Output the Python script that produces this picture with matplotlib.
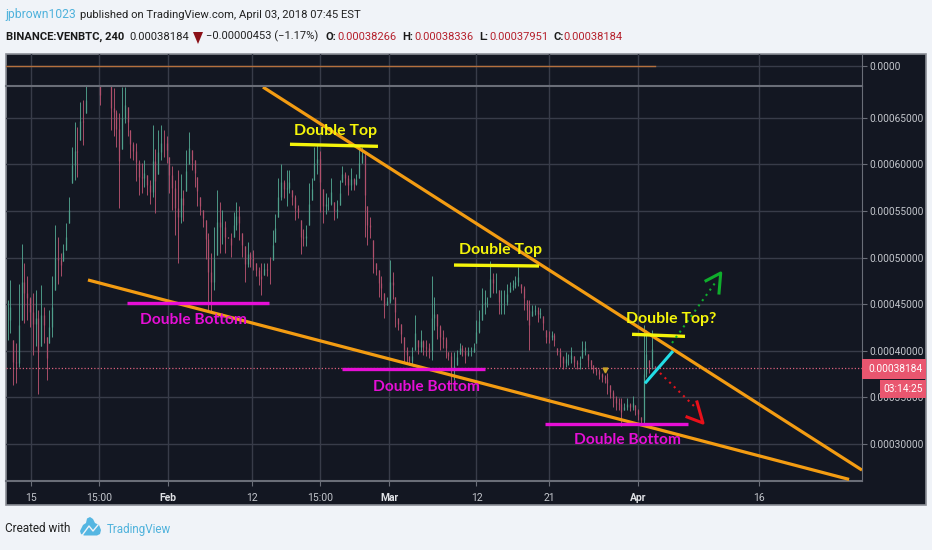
import numpy as np
import matplotlib
matplotlib.use("Agg")
import matplotlib.pyplot as plt
from matplotlib.patches import Rectangle, Polygon

# ---- data (prices in units of 1e-5 BTC, x in session days: 15 = "15" tick) ----
highs = [45.5,47.6,41.2,40.8,47.2,51.5,49.4,48.0,45.8,46.2,46.5,44.4,47.1,44.7,41.5,44.4,48.0,53.5,52.2,50.5,
 51.5,53.7,56.5,61.9,64.6,64.05,66.7,66.9,68.4,70,70,70,70,68.4,70,70,70,68.4,68.2,65.8,65.5,68.3,68.3,66.2,63.7,62.4,
 62.3,60.5,60.1,60.5,58.9,58.3,64.2,61.6,63.7,64.2,63.7,
 63.0,60.8,59.8,58.3,59.4,59.0,57.3,61.5,63.5,61.5,60.5,58.7,56.5,55.1,54.0,52.6,50.5,53.3,57.3,56.0,55.1,53.9,52.2,
 52.6,54.9,56.0,55.5,52.6,51.2,51.7,50.6,50.8,49.4,49.0,49.4,49.4,49.4,50.1,53.0,54.7,58.5,60.0,58.3,59.4,
 59.4,57.3,56.7,55.6,54.0,53.1,53.5,58.0,58.5,61.9,62.1,61.4,57.4,56.9,56.5,58.5,56.0,56.2,58.3,59.8,59.2,58.9,59.6,
 58.5,59.0,61.9,61.9,61.2,55.5,54.4,51.9,49.4,48.7,48.0,46.2,45.8,49.7,48.5,45.8,43.5,42.9,41.5,40.4,39.4,40.4,
 43.8,41.2,42.2,41.2,41.2,40.8,48.0,45.8,44.0,42.8,42.2,41.5,39.9,39.9,39.9,40.1,40.8,40.6,40.4,40.4,40.4,40.8,
 43.3,44.4,46.7,46.5,45.8,49.6,48.3,48.3,46.5,46.5,46.5,47.2,47.4,47.6,48.0,49.0,47.2,46.9,45.5,45.5,44.9,44.9,44.7,44.6,
 43.7,42.2,42.1,42.1,41.9,40.3,40.3,39.4,39.9,39.7,40.4,39.4,39.0,39.4,41.0,41.0,39.7,39.0,38.5,38.3,38.1,37.6,37.4,
 37.6,36.3,35.8,35.1,34.9,34.9,34.4,34.9,34.4,35.1,34.2,33.8,32.9,42.8,42.2,39.0,42.2,38.34]
lows = [41.2,41.9,36.3,36.5,38.3,43.3,43.0,43.3,42.6,39.6,40.5,35.4,40.5,40.8,36.9,40.8,41.5,46.5,47.2,48.0,
 49.6,50.8,53.7,58.0,58.3,58.7,62.6,62.1,65.5,69,69,69,69,66.4,69,69,69,63.7,63.0,61.9,55.3,61.6,64.4,63.0,60.7,60.5,
 58.2,56.7,56.9,57.6,56.7,55.8,56.5,54.8,59.0,60.5,60.8,
 60.1,56.9,55.1,52.4,49.4,53.7,53.9,57.1,60.0,59.4,57.6,55.5,54.6,53.3,49.9,44.4,44.2,46.5,50.3,50.5,51.5,50.5,52.1,
 50.1,52.2,53.0,51.9,50.1,47.4,49.0,49.0,48.7,48.0,47.1,46.0,48.1,48.0,47.2,49.7,51.7,54.4,56.2,56.4,55.5,
 56.9,55.6,54.0,54.2,50.4,51.2,51.2,53.5,56.2,58.3,59.0,54.9,53.7,54.7,55.1,55.6,54.0,54.2,55.6,58.1,57.8,56.7,57.3,
 57.3,57.8,58.5,60.1,52.2,51.4,52.1,48.3,48.1,45.8,45.4,43.5,44.9,45.1,45.6,42.6,42.2,40.8,38.7,38.7,38.5,38.5,
 40.1,39.7,39.9,39.6,39.4,39.2,39.0,42.2,41.3,40.1,40.3,39.2,39.0,35.8,36.9,38.5,39.7,39.4,38.7,39.4,39.4,39.9,
 40.8,41.9,43.3,44.0,44.7,45.8,46.2,46.2,44.0,44.0,44.0,44.9,46.3,46.5,46.7,46.9,46.2,44.4,43.3,40.1,43.7,43.8,43.1,43.5,
 42.2,40.8,40.8,41.2,40.5,39.5,38.3,38.0,38.3,38.5,38.7,38.3,38.1,38.0,39.2,39.5,38.3,38.0,37.6,37.4,37.0,36.7,36.5,
 35.4,34.9,34.0,33.6,33.6,31.9,33.6,33.6,33.5,33.6,33.1,32.6,32.2,32.2,37.2,37.6,38.1,37.95]
first_day, last_day = 12.1, 92.4
last_close = 38.184

price_ticks = [30, 35, 40, 45, 50, 55, 60, 65]
price_labels = ["0.00030000","0.00035000","0.00040000","0.00045000","0.00050000","0.00055000","0.00060000","0.00065000"]
day_ticks = [15, 23.44, 32, 42.42, 50.86, 59.42, 70.27, 79.27, 90.3, 105.3]
day_labels = ["15","15:00","Feb","12","15:00","Mar","12","21","Apr","16"]
bold_days = ["Feb","Mar","Apr"]

upper_trend = ([43.78,118.1],[68.3,27.2])
lower_trend = ([22.07,116.5],[47.6,26.2])
yellow_lines = [([47.13,58.05],[62.16,61.94]),([67.48,78.03],[49.2,49.1]),([89.57,96.14],[41.77,41.55])]
magenta_lines = [([26.91,44.53],[45.13,45.13]),([53.59,71.33],[38.08,38.08]),([78.77,96.51],[32.11,32.11])]
cyan_line = ([91.18,94.65],[36.51,39.97])
green_dots = ([94.53,99.87],[40.84,47.28])
green_head = ([98.75,100.57,100.36],[47.52,48.35,46.2])
red_dots = ([93.04,97.38],[37.62,33.97])
red_head = ([97.63,98.37,96.39],[34.51,32.25,32.9])
yellow_texts = [(52.72,63.59,"Double Top"),(73.31,50.82,"Double Top"),(94.4,43.41,"Double Top?")]
magenta_texts = [(35.16,43.3,"Double Bottom"),(64.07,36.12,"Double Bottom"),(89.0,30.43,"Double Bottom")]

# ---- colours ----
PAGE="#f0f3f8"; PANEL="#131722"; GRID="#383c49"; SEP="#6a6e78"; AXT="#c3c6cc"
UP="#4f9f8b"; DOWN="#b0506c"; ORANGE="#f39c12"; YEL="#f5f50a"; MAG="#e60fd6"
FONT="Roboto"
W,H=932,550
fig=plt.figure(figsize=(W/100,H/100),dpi=100,facecolor=PAGE)

def axpx(x0,y0,x1,y1,z):
    return fig.add_axes([x0/W,1-y1/H,(x1-x0)/W,(y1-y0)/H],zorder=z)

bg=axpx(0,0,W,H,0); bg.set_xlim(0,W); bg.set_ylim(H,0); bg.axis("off")
bg.add_patch(Rectangle((6,53.5),920,451.5,fc=PANEL,ec="#8b8e96",lw=1.2))

ax=axpx(6,86,862,481,2); ax.patch.set_alpha(0)
ax.set_xlim(11.9,118.1)
ax.set_ylim(30+(444-481)*0.1073,30+(444-86)*0.1073)
top=axpx(6,54,862,86,2); top.patch.set_alpha(0)
top.set_xlim(ax.get_xlim()); top.set_ylim(-1.25,0.75); top.set_yticks([0]); top.set_yticklabels(["0.0000"])
top.set_xticks(day_ticks); top.set_xticklabels([])
top.plot([11.9,92.4],[0,0],color="#b5703e",lw=1.0,zorder=3)
top.grid(True,color=GRID,lw=1.0); top.set_axisbelow(True)
top.tick_params(axis="x",length=0)
top.yaxis.tick_right()
top.tick_params(axis="y",length=3.5,color=SEP,labelcolor=AXT,pad=1.5)
for s in ["left","top"]: top.spines[s].set_visible(False)
top.spines["right"].set_color(SEP)
top.spines["bottom"].set_color(SEP); top.spines["bottom"].set_linewidth(1.5)
for t in top.get_yticklabels(): t.set_family(FONT); t.set_fontsize(7.3)

ax.yaxis.tick_right(); ax.set_yticks(price_ticks); ax.set_yticklabels(price_labels)
ax.set_xticks(day_ticks); ax.set_xticklabels(day_labels)
ax.grid(True,color=GRID,lw=1.0); ax.set_axisbelow(True)
ax.tick_params(axis="both",length=3.5,color=SEP,labelcolor=AXT,pad=1.5)
ax.tick_params(axis="x",pad=5)
for t in ax.get_yticklabels(): t.set_family(FONT); t.set_fontsize(7.3)
for t in ax.get_xticklabels():
    t.set_family(FONT); t.set_fontsize(7.5)
    if t.get_text() in bold_days:
        t.set_fontweight("bold"); t.set_color("#dfe1e5")
for s in ["left","top"]: ax.spines[s].set_visible(False)
ax.spines["right"].set_color(SEP); ax.spines["bottom"].set_color(SEP); ax.spines["bottom"].set_linewidth(1.5)

# candles
h=np.array(highs); l=np.array(lows)
x=np.linspace(first_day,last_day,len(h))
mid=(h+l)/2
op=np.clip(np.r_[mid[0],mid[:-1]],l,h); cl=mid
cols=np.where(cl>=op,UP,DOWN)
ax.vlines(x,l,h,colors=cols,lw=0.7,zorder=3,alpha=0.95)
ax.vlines(x,np.minimum(op,cl),np.maximum(op,cl),colors=cols,lw=0.9,zorder=3)

# price line
ax.axhline(last_close,color="#d9607c",lw=0.9,ls=(0,(1,1.6)),zorder=3)
ax.plot([86.2],[37.9],marker="v",ms=3.5,color="#c9a227",zorder=4)

# drawings
ax.plot(*upper_trend,color=ORANGE,lw=2.3,zorder=5,solid_capstyle="butt")
ax.plot(*lower_trend,color=ORANGE,lw=2.3,zorder=5,solid_capstyle="butt")
for a,b in yellow_lines: ax.plot(a,b,color=YEL,lw=2.4,zorder=6,solid_capstyle="butt")
for a,b in magenta_lines: ax.plot(a,b,color=MAG,lw=2.4,zorder=6,solid_capstyle="butt")
ax.plot(*cyan_line,color="#22dde6",lw=2.2,zorder=6,solid_capstyle="butt")
ax.plot(*green_dots,color="#0fae2c",lw=1.5,ls=(0,(1,2.1)),zorder=6)
ax.plot(*green_head,color="#0fae2c",lw=2.2,zorder=6)
ax.plot(*red_dots,color="#e0141c",lw=1.5,ls=(0,(1,2.1)),zorder=6)
ax.plot(*red_head,color="#e8101a",lw=2.2,zorder=6)
for a,b,s in yellow_texts:
    ax.text(a,b,s,color=YEL,family="Lato",fontweight="bold",fontsize=11.4,ha="center",va="center",zorder=7)
for a,b,s in magenta_texts:
    ax.text(a,b,s,color=MAG,family="Lato",fontweight="bold",fontsize=11.2,ha="center",va="center",zorder=7)

# price boxes (drawn above the axis text)
ov=axpx(0,0,W,H,4); ov.set_xlim(0,W); ov.set_ylim(H,0); ov.axis("off"); ov.patch.set_alpha(0)
ov.add_patch(Rectangle((862,358.5),64,20,fc="#e9566f",ec="none"))
ov.add_patch(Rectangle((880,380),46,18,fc="#e9566f",ec="none"))
ov.text(868,368.5,"0.00038184",color="white",family=FONT,fontsize=7.3,va="center")
ov.text(883,389.5,"03:14:25",color="white",family=FONT,fontsize=7.3,va="center")

# header
def T(px,py,s,c="#1a1a1a",w="normal",fs=8.0):
    ov.text(px,py,s,color=c,family=FONT,fontsize=fs,fontweight=w,va="center",ha="left")
BLUE="#4fb2dc"; RED="#b5202c"
T(5,14.5,"jpbrown1023",BLUE,fs=8.7)
T(80,14.5,"published on TradingView.com, April 03, 2018 07:45 EST","#222222",fs=8.15)
T(6,36.5,"BINANCE:VENBTC, 240",w="bold",fs=8.1)
T(129,36.5,"0.00038184","#222222",fs=8.1)
ov.add_patch(Polygon([(193,32),(203,32),(198,44)],fc="#8b1018",ec="none"))
T(206,36.5,"\u22120.00000453 (\u22121.17%)","#222222",fs=8.0)
for px,lab,val in [(325,"O:","0.00038266"),(402,"H:","0.00038336"),(479,"L:","0.00037951"),(553,"C:","0.00038184")]:
    T(px,36.5,lab,w="bold")
    T(px+(12 if lab in ("O:","H:") else 10),36.5,val,RED)

# footer
T(5,528,"Created with","#222222",fs=8.5)
T(107,529,"TradingView",BLUE,fs=8.4)
ov.add_patch(Polygon([(80,531),(83,525),(86,523),(87,518.5),(90,517),(93,519),(95,523),(99,525),(101,530),(100,534),(97,535.5),(84,535.5),(81,534)],fc="#55b6e2",ec="none"))
ov.plot([82,89,93,98],[535.5,526,531,525],color=PAGE,lw=1.0)

fig.savefig("out.png",dpi=100,facecolor=PAGE)
